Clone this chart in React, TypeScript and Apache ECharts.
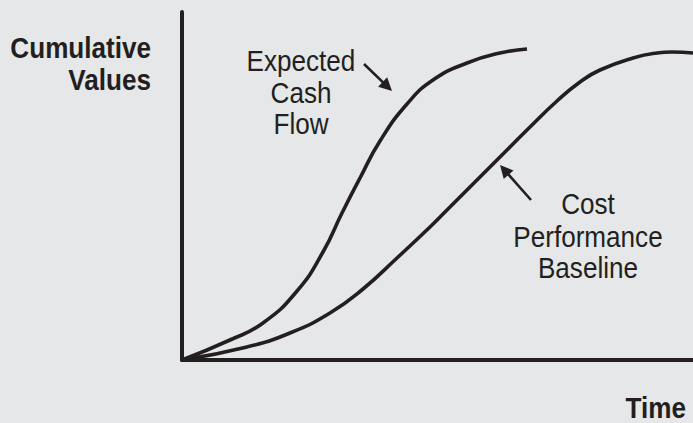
import React, { useEffect, useRef } from "react";
import * as echarts from "echarts";

// Values in plot units (x: time, y: cumulative value)
const expectedCashFlow: [number, number][] = [
  [0, 0], [48, 20], [81, 37], [115, 69], [141, 108], [160, 147], [178, 182],
  [198, 219], [225, 256], [251, 280], [285, 297], [318, 307], [345, 311],
];
const costBaseline: [number, number][] = [
  [0, 0], [65, 13], [108, 27], [148, 47], [181, 71], [215, 102], [248, 133],
  [265, 150], [315, 200], [348, 233], [375, 259], [398, 278], [418, 290],
  [451, 302], [475, 307], [490, 308], [511, 307],
];
const xMax = 511;
const yMax = 348;

const INK = "#231f20";
const BG = "#e6e7e8";
const FONT = "'Liberation Sans', Arial, sans-serif";
const SQUEEZE = 0.9;

function label(text: string, x: number, y: number, align: string, bold: boolean) {
  return {
    type: "text",
    x,
    y,
    scaleX: SQUEEZE,
    style: {
      text,
      fill: INK,
      font: `${bold ? "bold " : ""}29px ${FONT}`,
      lineHeight: 26,
      align,
      verticalAlign: "middle",
    },
  };
}

function arrow(x1: number, y1: number, x2: number, y2: number) {
  const dx = x2 - x1;
  const dy = y2 - y1;
  const len = Math.sqrt(dx * dx + dy * dy);
  const ux = dx / len;
  const uy = dy / len;
  const hl = 13;
  const hw = 6.5;
  const bx = x2 - ux * hl;
  const by = y2 - uy * hl;
  return [
    {
      type: "line",
      shape: { x1, y1, x2: bx + ux * 2, y2: by + uy * 2 },
      style: { stroke: INK, lineWidth: 2.6 },
    },
    {
      type: "polygon",
      shape: {
        points: [
          [x2, y2],
          [bx - uy * hw, by + ux * hw],
          [bx + uy * hw, by - ux * hw],
        ],
      },
      style: { fill: INK },
    },
  ];
}

export default function App() {
  const ref = useRef<HTMLDivElement>(null);
  useEffect(() => {
    if (!ref.current) return;
    const chart = echarts.init(ref.current, null, { renderer: "svg" });
    chart.setOption({
      animation: false,
      backgroundColor: BG,
      grid: { left: 182, right: 0, top: 12, bottom: 63 },
      xAxis: {
        type: "value",
        min: 0,
        max: xMax,
        axisLine: { show: true, lineStyle: { color: INK, width: 4 } },
        axisTick: { show: false },
        axisLabel: { show: false },
        splitLine: { show: false },
      },
      yAxis: {
        type: "value",
        min: 0,
        max: yMax,
        axisLine: { show: true, lineStyle: { color: INK, width: 4 } },
        axisTick: { show: false },
        axisLabel: { show: false },
        splitLine: { show: false },
      },
      series: [
        {
          name: "Expected Cash Flow",
          type: "line",
          data: expectedCashFlow,
          smooth: true,
          symbol: "none",
          lineStyle: { color: INK, width: 3.6 },
        },
        {
          name: "Cost Performance Baseline",
          type: "line",
          data: costBaseline,
          smooth: true,
          symbol: "none",
          lineStyle: { color: INK, width: 3.6 },
        },
      ],
      graphic: [
        label("Cumulative", 151, 48, "right", true),
        label("Values", 151, 80, "right", true),
        label("Expected", 301, 61, "center", false),
        label("Cash", 301, 93, "center", false),
        label("Flow", 301, 124, "center", false),
        label("Cost", 588, 204, "center", false),
        label("Performance", 588, 237, "center", false),
        label("Baseline", 588, 268, "center", false),
        label("Time", 686, 408, "right", true),
        ...arrow(364, 64, 392, 91),
        ...arrow(531, 200, 500, 165),
      ],
    });
    return () => chart.dispose();
  }, []);
  return (
    <div
      ref={ref}
      style={{ position: "fixed", left: 0, top: 0, width: 693, height: 423, background: BG }}
    />
  );
}
